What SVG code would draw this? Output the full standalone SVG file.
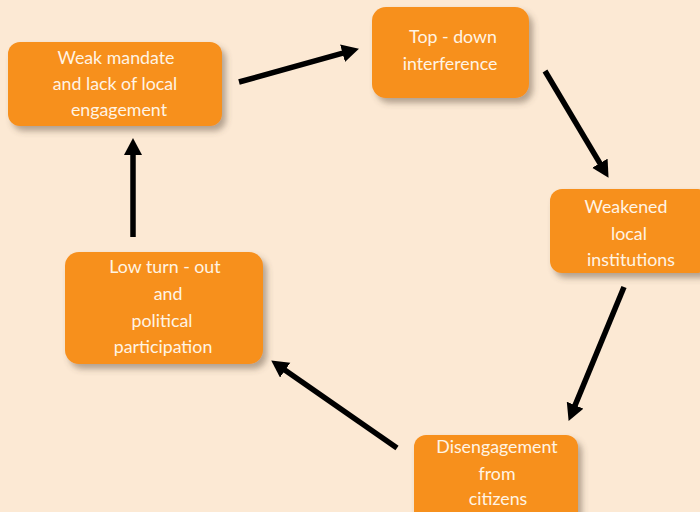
<svg xmlns="http://www.w3.org/2000/svg" width="700" height="512" viewBox="0 0 700 512">
<defs>
<filter id="sh" x="-20%" y="-20%" width="150%" height="160%">
<feDropShadow dx="4" dy="5" stdDeviation="3" flood-color="#5a4a3a" flood-opacity="0.45"/>
</filter>
<marker id="ah" markerUnits="userSpaceOnUse" markerWidth="20" markerHeight="20" refX="4" refY="9" orient="auto">
<path d="M0,0 L17,9 L0,18 z" fill="#000"/>
</marker>
</defs>
<style>
.box{fill:#F7901E;filter:url(#sh);}
.t{font-family:Lato,"Open Sans","Liberation Sans",sans-serif;font-size:17.8px;fill:#FFF4E4;text-anchor:middle;}
.c{stroke:#000;stroke-width:5.5;fill:none;marker-end:url(#ah);}
</style>
<rect width="700" height="512" fill="#FCE9D4"/>
<g id="n1">
<rect class="box" x="8" y="42" width="214" height="84" rx="12"/>
<text class="t" x="116" y="64">Weak mandate</text>
<text class="t" x="115" y="90">and lack of local</text>
<text class="t" x="119" y="116">engagement</text>
</g>
<g id="n2">
<rect class="box" x="372" y="7" width="157" height="91" rx="14"/>
<text class="t" x="453" y="43">Top - down</text>
<text class="t" x="450" y="70">interference</text>
</g>
<g id="n3">
<rect class="box" x="550" y="189" width="160" height="84" rx="12"/>
<text class="t" x="626" y="213">Weakened</text>
<text class="t" x="629" y="240">local</text>
<text class="t" x="631" y="266">institutions</text>
</g>
<g id="n4">
<rect class="box" x="414" y="435" width="164" height="90" rx="12"/>
<text class="t" x="497" y="453">Disengagement</text>
<text class="t" x="497" y="480">from</text>
<text class="t" x="498" y="505">citizens</text>
</g>
<g id="n5">
<rect class="box" x="65" y="252" width="198" height="112" rx="14"/>
<text class="t" x="165" y="273">Low turn - out</text>
<text class="t" x="168" y="300">and</text>
<text class="t" x="162" y="327">political</text>
<text class="t" x="163" y="353">participation</text>
</g>
<g id="connectors">
<line class="c" x1="239" y1="82" x2="346.4" y2="52.2"/>
<line class="c" x1="545" y1="71" x2="601.9" y2="166.7"/>
<line class="c" x1="624" y1="287" x2="573.6" y2="408.9"/>
<line class="c" x1="397" y1="448" x2="281.9" y2="367.9"/>
<line class="c" x1="133" y1="237" x2="133" y2="151"/>
</g>
</svg>
